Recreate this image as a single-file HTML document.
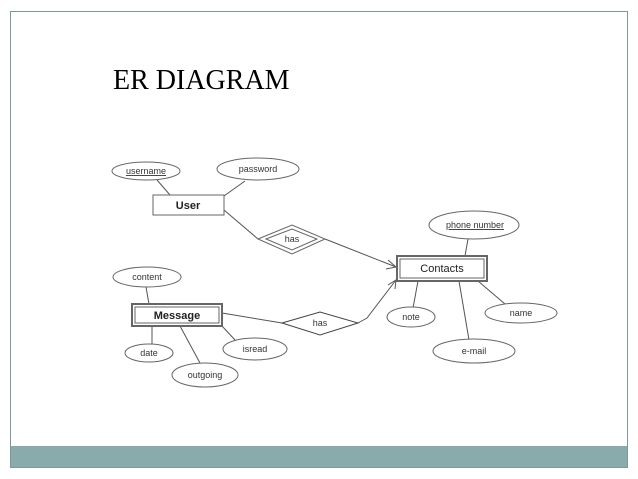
<!DOCTYPE html>
<html><head><meta charset="utf-8"><style>
html,body{margin:0;padding:0;background:#fff;width:638px;height:479px;overflow:hidden}
</style></head><body>
<svg width="638" height="479" viewBox="0 0 638 479" xmlns="http://www.w3.org/2000/svg" font-family="Liberation Sans, Arial, sans-serif">
<rect x="10.5" y="11.5" width="617" height="456" fill="#fff" stroke="#7f9999" stroke-width="1"/>
<rect x="11" y="446" width="616" height="21" fill="#8aabab"/>
<text x="113" y="89" font-family="Liberation Serif, serif" font-size="28" fill="#000">ER DIAGRAM</text>
<g stroke="#555" stroke-width="1" fill="none">
<line x1="157" y1="180" x2="170" y2="195"/>
<line x1="245" y1="181" x2="224" y2="196"/>
<line x1="224" y1="210" x2="258" y2="239"/>
<line x1="325" y1="239" x2="396" y2="267"/>
<polyline points="388,260 396,267 386,269"/>
<line x1="468" y1="239" x2="465" y2="256"/>
<line x1="146" y1="287" x2="149" y2="304"/>
<line x1="152" y1="326" x2="152" y2="345"/>
<line x1="180" y1="326" x2="200" y2="363"/>
<line x1="222" y1="326" x2="235" y2="340"/>
<line x1="222" y1="313" x2="282" y2="323"/>
<polyline points="358,323 367,318 396,280"/>
<polyline points="388,285 396,280 395,289"/>
<line x1="418" y1="281" x2="413" y2="308"/>
<line x1="478" y1="281" x2="505" y2="304"/>
<line x1="459" y1="281" x2="469" y2="340"/>
</g>
<g stroke="#666" fill="#fff" stroke-width="1">
<ellipse cx="146" cy="171" rx="34" ry="9"/>
<ellipse cx="258" cy="169" rx="41" ry="11"/>
<rect x="153" y="195" width="71" height="20"/>
<polygon points="258,239 292,225 325,239 292,254"/>
<polygon points="266,239 292,229 317,239 292,250"/>
<ellipse cx="474" cy="225" rx="45" ry="14"/>
<rect x="397" y="256" width="90" height="25" stroke-width="2"/>
<rect x="400" y="259" width="84" height="19"/>
<ellipse cx="147" cy="277" rx="34" ry="10"/>
<rect x="132" y="304" width="90" height="22" stroke-width="2"/>
<rect x="135" y="307" width="84" height="16"/>
<ellipse cx="149" cy="353" rx="24" ry="9"/>
<ellipse cx="205" cy="375" rx="33" ry="12"/>
<ellipse cx="255" cy="349" rx="32" ry="11"/>
<polygon points="282,323 320,312 358,323 320,335" stroke="#444"/>
<ellipse cx="411" cy="317" rx="24" ry="10"/>
<ellipse cx="521" cy="313" rx="36" ry="10"/>
<ellipse cx="474" cy="351" rx="41" ry="12"/>
</g>
<g font-size="9" fill="#333" text-anchor="middle">
<text x="146" y="174" text-decoration="underline">username</text>
<text x="258" y="172">password</text>
<text x="292" y="242">has</text>
<text x="475" y="228" text-decoration="underline">phone number</text>
<text x="147" y="280">content</text>
<text x="149" y="356">date</text>
<text x="205" y="378">outgoing</text>
<text x="255" y="352">isread</text>
<text x="320" y="326">has</text>
<text x="411" y="320">note</text>
<text x="521" y="316">name</text>
<text x="474" y="354">e-mail</text>
</g>
<g font-size="11" font-weight="bold" fill="#222" text-anchor="middle">
<text x="188" y="209">User</text>
<text x="442" y="272" font-weight="normal">Contacts</text>
<text x="177" y="319">Message</text>
</g>
</svg>
</body></html>
